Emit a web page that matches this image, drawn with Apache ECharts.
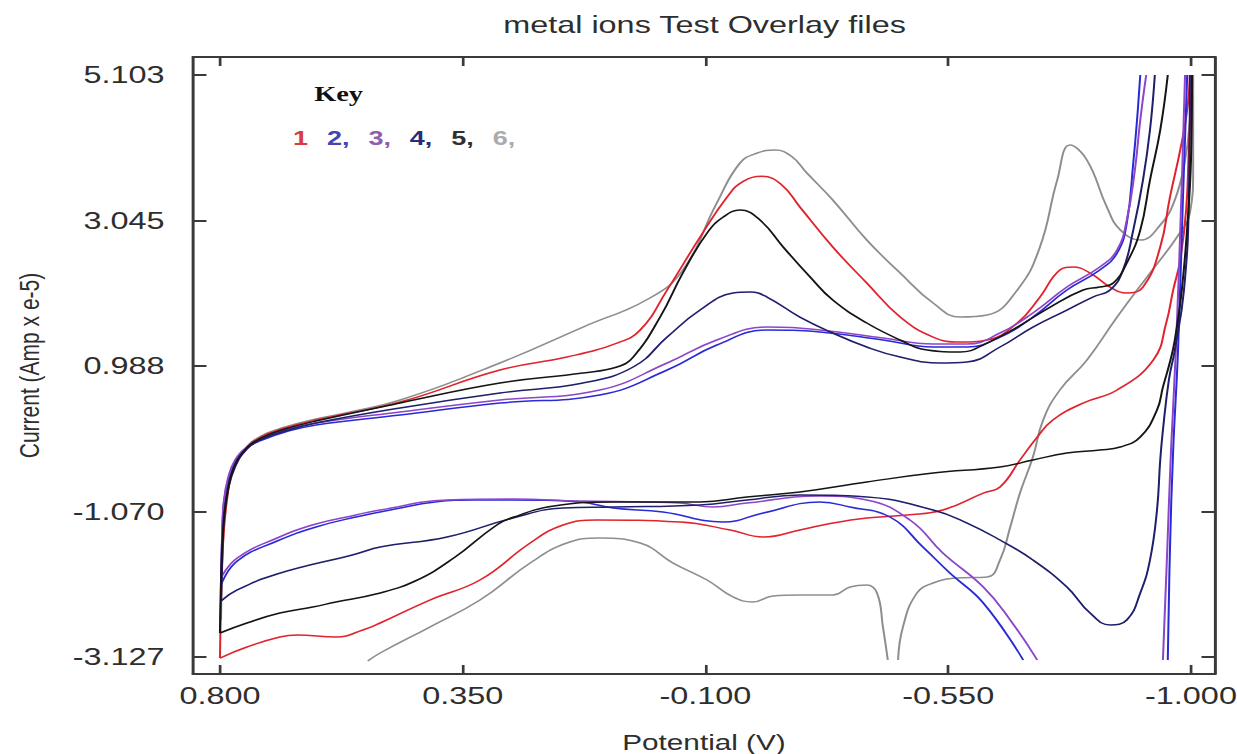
<!DOCTYPE html>
<html>
<head>
<meta charset="utf-8">
<title>metal ions Test Overlay files</title>
<script src="https://cdn.jsdelivr.net/npm/echarts@6/dist/echarts.min.js"></script>
<style>
  html, body { margin: 0; padding: 0; background: #fff; overflow: hidden; }
  #stage { width: 1237px; height: 754px; overflow: hidden; }
  /* the plot is laid out on a narrower canvas and widened, like the instrument export */
  #chart { width: 916px; height: 754px; transform: scaleX(1.350437); transform-origin: 0 0; }
</style>
</head>
<body>
<div id="stage"><div id="chart"></div></div>
<script>
// Tick values of the two axes
const potentialTicks = [0.800, 0.350, -0.100, -0.550, -1.000];
const currentTicks = [-3.127, -1.070, 0.988, 3.045, 5.103];

// Break in a trace where the recorder clipped it
const GAP = ['-', '-'];

// Cyclic voltammograms: [potential V, current Amp x e-5], forward sweep then return sweep
const run1 = [
  [0.800,-3.141],[0.798,-2.321],[0.794,-1.472],[0.787,-0.907],[0.776,-0.482],[0.754,-0.200],[0.724,-0.016],
  [0.679,0.112],[0.622,0.225],[0.466,0.479],[0.281,0.932],[0.157,1.115],[0.064,1.313],[0.021,1.497],
  [-0.029,2.063],[-0.090,2.812],[-0.140,3.378],[-0.170,3.600],[-0.205,3.670],[-0.240,3.560],[-0.275,3.237],[-0.336,2.671],
  [-0.399,2.162],[-0.461,1.681],[-0.522,1.398],[-0.572,1.327],[-0.622,1.356],[-0.678,1.596],[-0.720,1.964],
  [-0.757,2.346],[-0.781,2.388],[-0.813,2.303],[-0.850,2.105],[-0.881,2.020],[-0.911,2.105],[-0.943,2.671],
  [-0.961,3.378],[-0.980,4.042],[-0.993,4.608],[-0.998,5.103], GAP,
  [-1.002,5.103],[-0.996,4.042],[-0.991,3.194],[-0.980,2.487],[-0.967,2.063],[-0.954,1.596],[-0.930,1.073],
  [-0.863,0.649],[-0.800,0.465],[-0.744,0.225],[-0.715,-0.016],[-0.683,-0.341],[-0.646,-0.723],[-0.615,-0.808],
  [-0.540,-1.048],[-0.474,-1.118],[-0.399,-1.161],[-0.336,-1.232],[-0.275,-1.331],[-0.207,-1.430],[-0.146,-1.331],
  [-0.053,-1.218],[0.101,-1.189],[0.164,-1.260],[0.225,-1.515],[0.318,-2.038],[0.411,-2.321],[0.503,-2.646],
  [0.535,-2.745],[0.585,-2.844],[0.657,-2.815],[0.689,-2.844],[0.750,-2.985],[0.800,-3.141]
];
const run2 = [
  [0.798,-2.108],[0.796,-1.472],[0.793,-0.977],[0.785,-0.624],[0.772,-0.369],[0.750,-0.171],[0.722,-0.058],
  [0.679,0.055],[0.622,0.154],[0.466,0.295],[0.281,0.465],[0.096,0.578],[-0.029,0.932],[-0.121,1.285],
  [-0.214,1.497],[-0.312,1.469],[-0.429,1.356],[-0.522,1.257],[-0.585,1.257],[-0.646,1.398],[-0.707,1.681],
  [-0.770,2.063],[-0.831,2.346],[-0.863,2.586],[-0.881,3.010],[-0.893,3.859],[-0.900,4.467],[-0.906,5.103], GAP,
  [-0.993,5.103],[-0.985,3.336],[-0.976,1.214],[-0.967,-0.200],[-0.961,-1.614],[-0.957,-3.169], GAP,
  [-0.689,-3.169],[-0.615,-2.363],[-0.553,-1.939],[-0.503,-1.571],[-0.442,-1.147],[-0.368,-1.006],[-0.312,-0.935],
  [-0.207,-1.090],[-0.133,-1.218],[-0.021,-1.076],[0.071,-1.020],[0.133,-0.935],[0.257,-0.907],[0.329,-0.907],
  [0.401,-0.935],[0.476,-1.034],[0.548,-1.147],[0.622,-1.288],[0.694,-1.486],[0.768,-1.769],[0.798,-2.108]
];
const run3 = [
  [0.798,-2.010],[0.796,-1.401],[0.793,-0.935],[0.785,-0.595],[0.772,-0.341],[0.750,-0.157],[0.722,-0.030],
  [0.679,0.083],[0.622,0.182],[0.466,0.338],[0.281,0.507],[0.096,0.649],[-0.029,1.031],[-0.121,1.356],
  [-0.214,1.539],[-0.312,1.497],[-0.429,1.384],[-0.522,1.299],[-0.585,1.299],[-0.646,1.455],[-0.707,1.738],
  [-0.770,2.105],[-0.831,2.388],[-0.863,2.628],[-0.881,3.053],[-0.896,3.760],[-0.906,4.467],[-0.917,5.103], GAP,
  [-0.989,5.103],[-0.982,3.336],[-0.972,1.214],[-0.963,-0.200],[-0.956,-1.614],[-0.948,-3.169], GAP,
  [-0.715,-3.169],[-0.665,-2.604],[-0.615,-2.137],[-0.540,-1.656],[-0.479,-1.189],[-0.399,-0.907],[-0.312,-0.850],
  [-0.177,-0.949],[-0.114,-1.006],[-0.053,-0.949],[0.008,-0.935],[0.133,-0.921],[0.257,-0.893],[0.379,-0.907],
  [0.503,-1.048],[0.548,-1.118],[0.622,-1.246],[0.694,-1.444],[0.768,-1.727],[0.798,-2.010]
];
const run4 = [
  [0.798,-2.335],[0.796,-1.755],[0.793,-1.189],[0.785,-0.765],[0.772,-0.440],[0.750,-0.185],[0.722,-0.044],
  [0.679,0.069],[0.622,0.182],[0.466,0.394],[0.281,0.606],[0.127,0.748],[0.034,0.974],[-0.029,1.398],
  [-0.090,1.780],[-0.151,2.020],[-0.183,2.035],[-0.214,1.964],[-0.275,1.681],[-0.336,1.455],[-0.399,1.257],
  [-0.461,1.115],[-0.535,1.031],[-0.585,1.045],[-0.646,1.257],[-0.707,1.539],[-0.770,1.780],[-0.818,1.964],
  [-0.850,2.063],[-0.874,2.346],[-0.893,2.911],[-0.911,3.618],[-0.924,4.325],[-0.933,5.103], GAP,
  [-0.998,5.103],[-0.996,3.336],[-0.987,2.063],[-0.970,1.214],[-0.959,0.790],[-0.948,0.083],[-0.943,-0.341],
  [-0.937,-1.048],[-0.924,-1.755],[-0.906,-2.222],[-0.881,-2.604],[-0.850,-2.674],[-0.813,-2.505],[-0.770,-2.137],
  [-0.707,-1.755],[-0.646,-1.472],[-0.585,-1.232],[-0.522,-1.048],[-0.399,-0.864],[-0.275,-0.836],[-0.177,-0.907],
  [-0.090,-0.977],[0.071,-1.006],[0.164,-1.020],[0.257,-1.161],[0.379,-1.430],[0.503,-1.571],[0.548,-1.670],
  [0.694,-1.953],[0.768,-2.179],[0.798,-2.335]
];
const run5 = [
  [0.800,-2.787],[0.798,-2.038],[0.794,-1.331],[0.787,-0.836],[0.776,-0.482],[0.754,-0.200],[0.724,-0.030],
  [0.679,0.097],[0.622,0.210],[0.466,0.465],[0.281,0.748],[0.127,0.889],[0.064,0.974],[0.034,1.115],
  [-0.016,1.681],[-0.058,2.303],[-0.103,2.869],[-0.133,3.095],[-0.164,3.194],[-0.201,3.053],[-0.244,2.671],
  [-0.294,2.247],[-0.336,1.921],[-0.399,1.596],[-0.461,1.356],[-0.511,1.214],[-0.572,1.186],[-0.622,1.313],
  [-0.678,1.539],[-0.739,1.822],[-0.800,2.063],[-0.831,2.105],[-0.856,2.162],[-0.881,2.445],[-0.906,2.911],
  [-0.924,3.618],[-0.943,4.325],[-0.957,5.103], GAP,
  [-1.002,5.103],[-1.000,3.901],[-0.994,3.053],[-0.983,2.063],[-0.970,1.356],[-0.961,1.045],[-0.948,0.691],
  [-0.937,0.366],[-0.906,-0.016],[-0.869,-0.157],[-0.831,-0.200],[-0.770,-0.242],[-0.707,-0.341],[-0.646,-0.440],
  [-0.522,-0.525],[-0.399,-0.652],[-0.275,-0.794],[-0.177,-0.864],[-0.090,-0.935],[0.071,-0.935],[0.181,-0.992],
  [0.255,-1.147],[0.292,-1.288],[0.364,-1.713],[0.438,-2.052],[0.511,-2.236],[0.585,-2.349],[0.628,-2.420],
  [0.689,-2.505],[0.750,-2.646],[0.800,-2.787]
];
const run6 = [
  [0.798,-2.604],[0.794,-1.472],[0.787,-0.864],[0.776,-0.468],[0.754,-0.185],[0.724,-0.002],[0.679,0.126],
  [0.622,0.239],[0.559,0.338],[0.466,0.507],[0.281,1.031],[0.127,1.539],[0.003,1.950],[-0.058,2.346],
  [-0.121,3.293],[-0.164,3.859],[-0.196,4.000],[-0.229,4.042],[-0.260,3.950],[-0.288,3.717],[-0.336,3.336],[-0.399,2.770],
  [-0.461,2.303],[-0.522,1.879],[-0.572,1.681],[-0.622,1.709],[-0.678,2.063],[-0.720,2.671],[-0.752,3.618],
  [-0.776,4.113],[-0.807,3.901],[-0.844,3.237],[-0.869,2.911],[-0.906,2.770],[-0.943,2.982],[-0.970,3.336],
  [-0.989,3.901],[-0.998,4.467],[-1.002,5.103], GAP,
  [-1.004,5.103],[-1.004,3.760],[-0.998,3.152],[-0.974,2.812],[-0.924,2.303],[-0.863,1.681],[-0.807,1.073],
  [-0.757,0.649],[-0.726,0.225],[-0.707,-0.299],[-0.683,-0.808],[-0.665,-1.288],[-0.646,-1.755],[-0.622,-1.995],
  [-0.566,-2.010],[-0.522,-2.080],[-0.492,-2.222],[-0.466,-2.703],[-0.457,-3.169], GAP,
  [-0.438,-3.169],[-0.429,-2.703],[-0.418,-2.222],[-0.399,-2.108],[-0.368,-2.137],[-0.336,-2.250],[-0.275,-2.250],
  [-0.225,-2.264],[-0.188,-2.349],[-0.151,-2.278],[-0.103,-2.038],[-0.040,-1.798],[0.021,-1.515],[0.096,-1.444],
  [0.157,-1.515],[0.225,-1.798],[0.318,-2.321],[0.411,-2.703],[0.503,-3.070],[0.526,-3.183]
];

const runNames = ['1', '2,', '3,', '4,', '5,', '6,'];
const runs = [run1, run2, run3, run4, run5, run6];

// Styling
const lineColors = ['#e0232d', '#2a2ad6', '#8c46c9', '#1f1f6b', '#151515', '#8e8e8e'];
const keyColors = ['#d63c46', '#4343b3', '#8d5fae', '#2b2b7c', '#303030', '#ababab'];
const FONT = '"Liberation Sans", Arial, Helvetica, sans-serif';
const FRAME = '#3a3a3a';

const chart = echarts.init(document.getElementById('chart'), null, { renderer: 'svg', width: 916, height: 754 });

const frameLine = { show: true, onZero: false, lineStyle: { color: FRAME, width: 2.2 } };
const tickFmt = v => Number(v).toFixed(3);

const xBase = { type: 'value', gridIndex: 0, min: -1.0445, max: 0.850, inverse: true, splitLine: { show: false }, axisLine: frameLine };
const yBase = { type: 'value', gridIndex: 0, min: -3.367, max: 5.358, splitLine: { show: false }, axisLine: frameLine };
const xTick = { show: true, inside: true, length: 9, customValues: potentialTicks, lineStyle: { color: FRAME, width: 2 } };
const yTick = { show: true, inside: true, length: 10, customValues: currentTicks, lineStyle: { color: FRAME, width: 2 } };

chart.setOption({
  animation: false,
  backgroundColor: '#ffffff',
  title: [
    {
      text: 'metal ions Test Overlay files', left: 521.7, top: 13, padding: 0,
      textAlign: 'center', textVerticalAlign: 'top',
      textStyle: { fontFamily: FONT, fontSize: 24, fontWeight: 'normal', color: '#2e2e2e' }
    },
    {
      text: 'Key', left: 250.7, top: 83, padding: 0,
      textAlign: 'center', textVerticalAlign: 'top',
      textStyle: { fontFamily: '"Liberation Serif", "Times New Roman", serif', fontSize: 21, fontWeight: 'bold', color: '#111' }
    }
  ],
  legend: {
    left: 212, top: 128, padding: 0, orient: 'horizontal',
    itemWidth: 0, itemHeight: 20, itemGap: 9, icon: 'rect', selectedMode: false,
    textStyle: { fontFamily: FONT, fontSize: 20, fontWeight: 'bold' },
    data: runNames.map((n, i) => ({ name: n, textStyle: { color: keyColors[i] } }))
  },
  grid: { left: 142.9, right: 16.3, top: 57, bottom: 80, containLabel: false, outerBoundsMode: 'none' },
  xAxis: [
    Object.assign({}, xBase, {
      position: 'bottom',
      name: 'Potential (V)', nameLocation: 'middle', nameGap: 57,
      nameTextStyle: { fontFamily: FONT, fontSize: 22, color: '#2e2e2e' },
      axisTick: xTick,
      axisLabel: { show: true, customValues: potentialTicks, margin: 10, formatter: tickFmt,
                   fontFamily: FONT, fontSize: 24, color: '#2e2e2e' }
    }),
    Object.assign({}, xBase, { position: 'top', axisTick: xTick, axisLabel: { show: false } })
  ],
  yAxis: [
    Object.assign({}, yBase, {
      position: 'left',
      name: 'Current (Amp x e-5)', nameLocation: 'middle', nameGap: 111,
      nameTextStyle: { fontFamily: FONT, fontSize: 21, color: '#2e2e2e' },
      axisTick: yTick,
      axisLabel: { show: true, customValues: currentTicks, margin: 21, formatter: tickFmt,
                   fontFamily: FONT, fontSize: 24, color: '#2e2e2e' }
    }),
    Object.assign({}, yBase, { position: 'right', axisTick: yTick, axisLabel: { show: false } })
  ],
  series: runs.map((d, i) => ({
    name: runNames[i],
    type: 'line',
    xAxisIndex: 0,
    yAxisIndex: 0,
    data: d,
    showSymbol: false,
    symbol: 'none',
    smooth: 0.45,
    connectNulls: false,
    clip: true,
    silent: true,
    z: i === 5 ? 1 : 2,
    lineStyle: { color: lineColors[i], width: 1.5 },
    itemStyle: { color: lineColors[i] },
    emphasis: { disabled: true }
  }))
});
</script>
</body>
</html>
